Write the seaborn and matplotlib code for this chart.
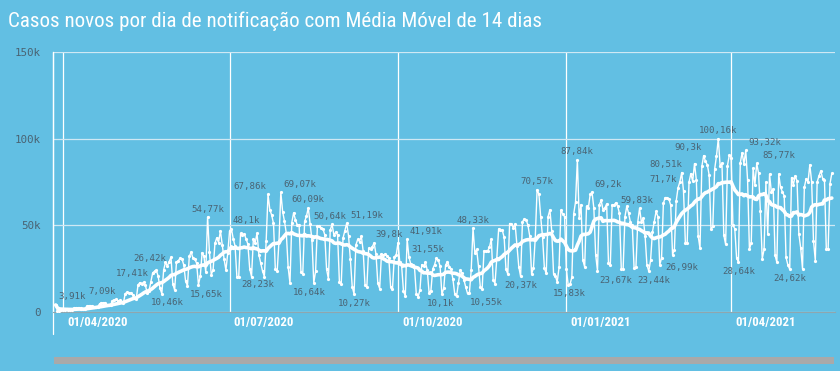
import pandas as pd
import seaborn as sns
import matplotlib.pyplot as plt
from matplotlib import font_manager as fm
from matplotlib.lines import Line2D
from matplotlib.patches import Rectangle
from matplotlib.transforms import ScaledTranslation

# Casos novos por dia (em milhares), a partir de 28/03/2020
mar_2020 = [3.91, 0.45, 0.6, 1.1]
abr_2020 = [1.2, 1.1, 1.3, 1.2, 1.0, 1.1, 2.1, 2.3, 2.2, 2.0, 1.9, 1.6, 1.8, 3.2, 3.5,
            3.3, 3.4, 2.9, 2.6, 2.9, 4.6, 5.2, 5.0, 5.3, 4.0, 3.6, 4.0, 6.4, 6.8, 7.09]
mai_2020 = [6.3, 6.5, 5.5, 5.0, 10.5, 11.2, 10.9, 11.0, 9.8, 8.0, 7.2, 15.5, 16.8, 16.2, 17.0,
            15.3, 10.8, 12.1, 17.41, 22.5, 23.4, 24.0, 20.5, 13.5, 10.46, 24.2, 28.5, 26.42, 29.0, 31.5,
            16.0]
jun_2020 = [12.5, 28.8, 29.5, 31.0, 30.5, 27.0, 17.5, 15.0, 32.0, 34.5, 31.0, 30.5, 28.0, 15.65, 20.5,
            34.2, 32.0, 22.8, 54.77, 34.5, 21.5, 24.0, 39.5, 42.7, 40.0, 46.9, 38.5, 30.5, 24.0, 33.8]
jul_2020 = [46.7, 48.1, 42.2, 38.0, 20.2, 20.0, 45.3, 44.6, 45.0, 42.2, 39.0, 24.8, 20.3, 41.9, 39.9,
            45.4, 33.0, 28.23, 23.5, 20.3, 41.0, 67.86, 59.0, 55.9, 51.1, 24.6, 23.3, 40.8, 69.07, 57.8,
            52.4]
ago_2020 = [45.4, 25.8, 16.6, 51.6, 57.2, 53.1, 50.2, 49.9, 23.0, 22.0, 52.2, 55.2, 60.09, 50.6, 41.6,
            16.64, 23.4, 49.8, 49.3, 48.3, 48.0, 44.5, 24.5, 19.0, 47.2, 50.64, 44.2, 46.0, 44.5, 17.2,
            16.2]
set_2020 = [42.7, 46.9, 51.19, 43.8, 30.2, 14.5, 10.27, 38.6, 41.8, 40.6, 43.7, 35.0, 15.2, 14.3, 36.8,
            36.2, 37.6, 39.8, 33.1, 16.4, 13.4, 33.5, 32.8, 33.3, 32.4, 31.1, 14.3, 13.2, 31.9, 32.6]
out_2020 = [39.8, 28.5, 26.5, 12.0, 9.0, 41.91, 31.55, 27.5, 27.0, 26.0, 10.5, 8.7, 12.5, 27.2, 26.2,
            28.5, 24.1, 10.9, 12.2, 24.8, 27.2, 30.9, 30.0, 26.4, 10.1, 13.5, 26.9, 29.0, 26.1, 24.6,
            18.9]
nov_2020 = [10.4, 8.8, 16.5, 23.9, 22.4, 18.6, 14.3, 10.55, 10.6, 23.9, 48.33, 33.9, 36.0, 26.2, 14.1,
            13.4, 35.3, 34.9, 35.2, 37.4, 42.0, 18.6, 16.2, 31.1, 47.9, 47.4, 47.1, 43.0, 24.5, 21.8]
dez_2020 = [51.0, 50.9, 48.6, 50.7, 38.0, 26.0, 20.37, 52.0, 53.5, 53.3, 50.0, 43.6, 21.8, 25.2, 42.6,
            70.57, 68.0, 54.5, 43.0, 25.0, 22.1, 55.0, 59.0, 46.7, 22.0, 20.5, 17.3, 25.6, 58.7, 56.6,
            55.0]
jan_2021 = [24.6, 15.5, 15.83, 20.0, 56.6, 63.5, 87.84, 54.0, 62.0, 29.8, 25.8, 61.0, 60.0, 67.8, 69.2,
            60.0, 33.0, 23.67, 61.9, 64.4, 59.1, 60.0, 62.3, 28.3, 26.8, 61.8, 61.7, 63.0, 61.0, 56.9,
            24.6]
fev_2021 = [24.6, 55.0, 61.0, 56.9, 51.7, 50.0, 25.0, 25.8, 52.0, 59.83, 51.7, 54.0, 44.0, 27.1, 23.44,
            29.7, 46.0, 51.9, 58.0, 55.0, 26.99, 31.0, 62.7, 66.0, 66.0, 65.2, 61.6, 33.0]
mar_2021 = [35.7, 64.0, 71.7, 75.1, 80.51, 69.6, 40.0, 40.0, 75.0, 79.9, 75.4, 85.7, 76.2, 43.8, 36.6,
            84.0, 90.3, 86.98, 85.0, 79.1, 47.8, 49.3, 82.5, 89.99, 100.16, 84.2, 85.9, 44.3, 38.9, 84.5,
            90.6]
abr_2021 = [89.2, 50.0, 48.0, 31.0, 28.64, 86.0, 92.0, 85.5, 93.32, 76.0, 36.0, 40.0, 83.0, 73.5, 85.77,
            80.0, 58.0, 30.6, 36.0, 75.0, 45.0, 79.6, 69.0, 71.0, 32.7, 28.5, 79.6, 72.0, 69.4, 67.0]
mai_2021 = [31.4, 27.0, 24.62, 77.6, 73.4, 78.6, 75.7, 45.0, 37.0, 24.8, 72.0, 77.0, 75.0, 85.0, 75.0,
            41.0, 29.5, 75.0, 78.6, 81.5, 77.0, 76.0, 36.4, 36.4, 74.0, 80.0]

# pontos com rotulo de valor
rotulo_datas = ['2020-03-28', '2020-04-30', '2020-05-19', '2020-05-28', '2020-05-25', '2020-06-14',
                '2020-06-19', '2020-07-02', '2020-07-22', '2020-07-18', '2020-07-29', '2020-08-13',
                '2020-08-16', '2020-08-26', '2020-09-03', '2020-09-07', '2020-10-01', '2020-10-06',
                '2020-10-07', '2020-10-25', '2020-11-11', '2020-11-08', '2020-12-07', '2020-12-16',
                '2021-01-03', '2021-01-07', '2021-01-15', '2021-01-18', '2021-02-10', '2021-02-15',
                '2021-02-21', '2021-03-03', '2021-03-05', '2021-03-17', '2021-03-25', '2021-04-05',
                '2021-04-09', '2021-04-15', '2021-05-03']
# deslocamento dos rotulos (pixels) para evitar sobreposicao
rotulo_dx = [16, -14, -18, -18, 6, 8, 0, 15, -18, -3, 19, 0, -4, -2, 20, 0, -9, 19, 19, -1,
             0, 19, 0, 0, -1, 0, 16, 18, -3, 5, 22, -15, -16, -16, 0, 0, 19, 22, 0]
rotulo_dy = [0] * len(rotulo_datas)
rotulo_dy[9] = -12
rotulo_dy[30] = 7

y_ticks = [0, 50, 100, 150]
titulo = 'Casos novos por dia de notificação com Média Móvel de 14 dias'

casos = (mar_2020 + abr_2020 + mai_2020 + jun_2020 + jul_2020 + ago_2020 + set_2020 + out_2020
         + nov_2020 + dez_2020 + jan_2021 + fev_2021 + mar_2021 + abr_2021 + mai_2021)
df = pd.DataFrame({'data': pd.date_range('2020-03-28', periods=len(casos), freq='D'),
                   'casos': casos})
df['media'] = df['casos'].rolling(14, min_periods=1).mean()
df = df.set_index('data', drop=False)

BG = '#62bfe3'
GRID = '#cfe8f4'
CINZA = '#4a6373'

sns.set_style('white')
disponiveis = {f.name for f in fm.fontManager.ttflist}


def fontes(*nomes):
    return [n for n in nomes if n in disponiveis] + ['DejaVu Sans']


fonte_titulo = fontes('Liberation Sans Narrow', 'Roboto Condensed', 'Roboto')
fonte_eixo = fontes('Roboto Condensed', 'Liberation Sans Narrow', 'Roboto')
MONO = ['DejaVu Sans Mono']

fig = plt.figure(figsize=(8.4, 3.71), dpi=100, facecolor=BG)
ax = fig.add_axes([53 / 840, 59.3 / 371, 782 / 840, 259.3 / 371])
ax.set_facecolor(BG)

sns.lineplot(data=df, x='data', y='casos', ax=ax, color='white', lw=1.0, marker='o',
             markersize=2.3, markeredgewidth=0, errorbar=None, zorder=3)
sns.lineplot(data=df, x='data', y='media', ax=ax, color='white', lw=2.6, errorbar=None, zorder=4)

ax.set_xlim(pd.Timestamp('2020-03-26 13:00'), pd.Timestamp('2021-05-27 18:00'))
ax.set_ylim(0, 150)
ax.set_xlabel('')
ax.set_ylabel('')

ticks_x = pd.date_range('2020-04-01', '2021-04-01', freq='QS')
ax.set_xticks(ticks_x, labels=[d.strftime('%d/%m/%Y') for d in ticks_x])
ax.set_yticks(y_ticks, labels=['0' if v == 0 else f'{v}k' for v in y_ticks])

ax.grid(axis='x', color='white', lw=0.9)
ax.grid(axis='y', color=GRID, lw=0.9)
ax.tick_params(axis='x', length=16.5, width=0.9, color='white', pad=-13.5,
               labelcolor='white', labelsize=9)
ax.tick_params(axis='y', length=7.2, width=0.9, color=GRID, pad=1.5,
               labelcolor=CINZA, labelsize=7.8)
for lbl in ax.get_xticklabels():
    lbl.set_ha('left')
    lbl.set_fontweight('bold')
    lbl.set_family(fonte_eixo)
    lbl.set_transform(lbl.get_transform() + ScaledTranslation(0.04, 0, fig.dpi_scale_trans))
for lbl in ax.get_yticklabels():
    lbl.set_family(MONO)

for lado in ['top', 'right']:
    ax.spines[lado].set_visible(False)
ax.spines['left'].set_color('white')
ax.spines['left'].set_linewidth(0.9)
ax.spines['bottom'].set_color('#8fa6ae')
ax.add_line(Line2D([0, 0], [-0.085, 1], transform=ax.transAxes, color='white', lw=0.9,
                   clip_on=False))

# rotulos de valores
for d, dx, dy in zip(rotulo_datas, rotulo_dx, rotulo_dy):
    v = df.loc[d, 'casos']
    texto = f'{v:.2f}'.rstrip('0').rstrip('.').replace('.', ',') + 'k'
    acima = v >= df.loc[d, 'media']
    ax.annotate(texto, xy=(pd.Timestamp(d), v),
                xytext=(dx * 0.72, (2.5 if acima else -3.5) + dy * 0.72),
                textcoords='offset points', ha='center', va='bottom' if acima else 'top',
                fontsize=6.6, family=MONO, color=CINZA, zorder=5)

t = fig.text(8 / 840, 1 - 27 / 371, titulo, color='white', fontsize=16,
             family=fonte_titulo, va='baseline')

# barra de rolagem
fig.add_artist(Rectangle((54 / 840, 7 / 371), 780 / 840, 7 / 371, transform=fig.transFigure,
                         color='#a9a9a9', lw=0))

# ajusta tamanho do titulo e dos rotulos de data a largura da referencia
fig.canvas.draw()
r = fig.canvas.get_renderer()
w = t.get_window_extent(r).width
t.set_fontsize(16 * 535 / w)
lx = ax.get_xticklabels()[0]
wx = lx.get_window_extent(r).width
ax.tick_params(axis='x', labelsize=9 * 60 / wx)

fig.savefig('out.png', dpi=100, facecolor=BG)
